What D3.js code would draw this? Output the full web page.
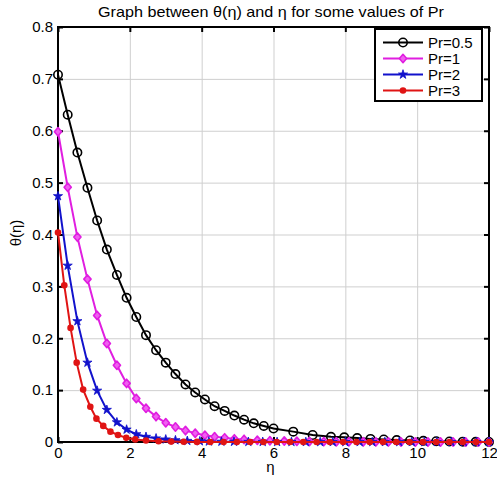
<!DOCTYPE html>
<html>
<head>
<meta charset="utf-8">
<script src="https://cdn.jsdelivr.net/npm/d3@7"></script>
<style>
  body { margin: 0; background: #fff; }
  svg { display: block; font-family: "Liberation Sans", Arial, sans-serif; }
</style>
</head>
<body>
<div id="chart"></div>
<script>
// values
const seriesNames = ["Pr=0.5", "Pr=1", "Pr=2", "Pr=3"];
const xTicks = [0, 2, 4, 6, 8, 10, 12];
const yTicks = [0, 0.1, 0.2, 0.3, 0.4, 0.5, 0.6, 0.7, 0.8];

const etaPr05 = [0, 0.27, 0.54, 0.82, 1.09, 1.36, 1.64, 1.91, 2.18, 2.45, 2.73, 3.0, 3.27, 3.55,
  3.82, 4.09, 4.36, 4.64, 4.91, 5.18, 5.45, 5.73, 6.0, 6.55, 7.09, 7.6, 7.97, 8.33, 8.7, 9.07,
  9.43, 9.8, 10.17, 10.53, 10.9, 11.27, 11.63, 12];
const thetaPr05 = [0.708, 0.631, 0.558, 0.490, 0.427, 0.371, 0.322, 0.278, 0.241, 0.206, 0.177,
  0.153, 0.131, 0.111, 0.0955, 0.082, 0.069, 0.060, 0.051, 0.043, 0.036, 0.031, 0.026, 0.020,
  0.0135, 0.010, 0.009, 0.0075, 0.006, 0.0048, 0.0038, 0.003, 0.0022, 0.0016, 0.0011, 0.0007,
  0.0004, 0.0001];

const etaPr1 = [0, 0.27, 0.54, 0.82, 1.09, 1.36, 1.64, 1.91, 2.18, 2.45, 2.73, 3.0, 3.27, 3.55,
  3.82, 4.09, 4.36, 4.64, 4.91, 5.18, 5.55, 5.9, 6.3, 6.65, 7.0, 7.4, 7.75, 8.1, 8.5, 8.85, 9.2,
  9.55, 9.95, 10.3, 10.65, 11.0, 11.35, 11.7, 12];
const thetaPr1 = [0.598, 0.491, 0.395, 0.314, 0.244, 0.190, 0.148, 0.113, 0.084, 0.065, 0.049,
  0.037, 0.029, 0.022, 0.017, 0.013, 0.010, 0.008, 0.006, 0.005, 0.0035, 0.0025, 0.0018, 0.0013,
  0.001, 0.0007, 0.0005, 0.0004, 0.0003, 0.0002, 0.0002, 0.0001, 0.0001, 0.0001, 0, 0, 0, 0, 0];

const etaPr2 = [0, 0.27, 0.54, 0.82, 1.09, 1.36, 1.64, 1.91, 2.18, 2.45, 2.73, 3.0, 3.27, 3.6,
  3.95, 4.2, 4.55, 4.9, 5.3, 5.7, 6.1, 6.5, 6.9, 7.3, 7.65, 8.0, 8.4, 8.75, 9.1, 9.5, 9.85, 10.2,
  10.55, 10.95, 11.3, 11.65, 12];
const thetaPr2 = [0.474, 0.340, 0.233, 0.153, 0.099, 0.062, 0.038, 0.024, 0.015, 0.010, 0.007,
  0.005, 0.0035, 0.0022, 0.0015, 0.001, 0.0007, 0.0005, 0.0003, 0.0002, 0.0001, 0.0001, 0, 0, 0,
  0, 0, 0, 0, 0, 0, 0, 0, 0, 0, 0, 0];

const etaPr3 = [0, 0.175, 0.35, 0.52, 0.7, 0.9, 1.07, 1.26, 1.46, 1.67, 1.9, 2.15, 2.45, 2.8,
  3.15, 3.5, 3.87, 4.24, 4.61, 4.98, 5.35, 5.72, 6.09, 6.46, 6.83, 7.2, 7.57, 7.94, 8.31, 8.68,
  9.05, 9.42, 9.79, 10.16, 10.53, 10.9, 11.27, 11.64, 12];
const thetaPr3 = [0.404, 0.302, 0.220, 0.153, 0.101, 0.068, 0.045, 0.031, 0.020, 0.0135, 0.008,
  0.005, 0.003, 0.0015, 0.0008, 0.0004, 0.0002, 0.0001, 0, 0, 0, 0, 0, 0, 0, 0, 0, 0, 0, 0, 0, 0,
  0, 0, 0, 0, 0, 0, 0];

const W = 497, H = 478;
const margin = { left: 58, right: 8, top: 27, bottom: 36 };
const iw = W - margin.left - margin.right;
const ih = H - margin.top - margin.bottom;

const svg = d3.select("#chart").append("svg")
  .attr("width", W)
  .attr("height", H);

const g = svg.append("g").attr("transform", `translate(${margin.left},${margin.top})`);

const x = d3.scaleLinear().domain([0, 12]).range([0, iw]);
const y = d3.scaleLinear().domain([0, 0.8]).range([ih, 0]);

// grid
g.append("g")
  .attr("transform", `translate(0,${ih})`)
  .call(d3.axisBottom(x).tickValues(xTicks).tickSize(-ih).tickFormat("").tickSizeOuter(0))
  .call(s => s.select(".domain").remove())
  .selectAll("line").attr("stroke", "#cfcfcf").attr("stroke-width", 1);
g.append("g")
  .call(d3.axisLeft(y).tickValues(yTicks).tickSize(-iw).tickFormat("").tickSizeOuter(0))
  .call(s => s.select(".domain").remove())
  .selectAll("line").attr("stroke", "#cfcfcf").attr("stroke-width", 1);

// axes with inward ticks
const styleAxis = s => {
  s.select(".domain").remove();
  s.selectAll("line").attr("stroke", "#000").attr("stroke-width", 2);
  s.selectAll("text").attr("font-size", 15).attr("fill", "#000")
    .attr("font-family", "'Liberation Sans', Arial, sans-serif");
};
g.append("g").attr("transform", `translate(0,${ih})`)
  .call(d3.axisBottom(x).tickValues(xTicks).tickSize(-5).tickPadding(5).tickSizeOuter(0))
  .call(styleAxis);
g.append("g")
  .call(d3.axisTop(x).tickValues(xTicks).tickSize(-5).tickFormat("").tickSizeOuter(0))
  .call(styleAxis);
g.append("g")
  .call(d3.axisLeft(y).tickValues(yTicks).tickSize(-5).tickPadding(5).tickSizeOuter(0)
    .tickFormat(d => d === 0 ? "0" : d3.format(".1f")(d)))
  .call(styleAxis);
g.append("g").attr("transform", `translate(${iw},0)`)
  .call(d3.axisRight(y).tickValues(yTicks).tickSize(-5).tickFormat("").tickSizeOuter(0))
  .call(styleAxis);

g.append("rect")
  .attr("width", iw).attr("height", ih)
  .attr("fill", "none").attr("stroke", "#000").attr("stroke-width", 2);

// series
const series = [
  { name: seriesNames[0], eta: etaPr05, theta: thetaPr05, color: "#000", marker: "circle" },
  { name: seriesNames[1], eta: etaPr1, theta: thetaPr1, color: "#e01ee0", marker: "diamond" },
  { name: seriesNames[2], eta: etaPr2, theta: thetaPr2, color: "#1212cc", marker: "star" },
  { name: seriesNames[3], eta: etaPr3, theta: thetaPr3, color: "#e01414", marker: "dot" }
];

const line = d3.line().x(d => x(d[0])).y(d => y(d[1]));

function drawMarker(sel, s) {
  if (s.marker === "circle") {
    sel.append("circle").attr("r", 4.2)
      .attr("fill", "none").attr("stroke", s.color).attr("stroke-width", 1.6);
  } else if (s.marker === "diamond") {
    sel.append("path").attr("d", "M0,-4.2L3.6,0L0,4.2L-3.6,0Z")
      .attr("fill", "#f060f0").attr("stroke", s.color).attr("stroke-width", 1.6)
      .attr("stroke-linejoin", "round");
  } else if (s.marker === "star") {
    sel.append("path").attr("d", d3.symbol(d3.symbolStar, 26)())
      .attr("fill", s.color).attr("stroke", s.color).attr("stroke-width", 0.8);
  } else {
    sel.append("circle").attr("r", 3.3).attr("fill", s.color);
  }
}

series.forEach(s => {
  const pts = s.eta.map((e, i) => [e, s.theta[i]]);
  const sg = g.append("g");
  sg.append("path").datum(pts)
    .attr("d", line)
    .attr("fill", "none")
    .attr("stroke", s.color)
    .attr("stroke-width", 2);
  sg.selectAll("g.m").data(pts).enter().append("g")
    .attr("class", "m")
    .attr("transform", d => `translate(${x(d[0])},${y(d[1])})`)
    .each(function() { drawMarker(d3.select(this), s); });
});

// legend
const lg = svg.append("g").attr("transform", "translate(375,29)");
lg.append("rect").attr("width", 107).attr("height", 72)
  .attr("fill", "#fff").attr("stroke", "#000").attr("stroke-width", 2);
series.forEach((s, i) => {
  const ly = 13.5 + i * 16;
  lg.append("line").attr("x1", 8).attr("x2", 48).attr("y1", ly).attr("y2", ly)
    .attr("stroke", s.color).attr("stroke-width", 2);
  const m = lg.append("g").attr("transform", `translate(28,${ly})`);
  drawMarker(m, s);
  lg.append("text").attr("x", 53).attr("y", ly + 5.5)
    .attr("font-size", 15).attr("fill", "#000").text(s.name);
});

// titles
svg.append("text")
  .attr("x", 271).attr("y", 17)
  .attr("text-anchor", "middle").attr("font-size", 15)
  .attr("textLength", 346).attr("lengthAdjust", "spacingAndGlyphs")
  .text("Graph between θ(η) and η for some values of Pr");
svg.append("text")
  .attr("x", margin.left + iw / 2 - 3).attr("y", 472)
  .attr("text-anchor", "middle").attr("font-size", 15)
  .text("η");
svg.append("text")
  .attr("transform", `translate(21,233) rotate(-90)`)
  .attr("text-anchor", "middle").attr("font-size", 15)
  .text("θ(η)");
</script>
</body>
</html>
